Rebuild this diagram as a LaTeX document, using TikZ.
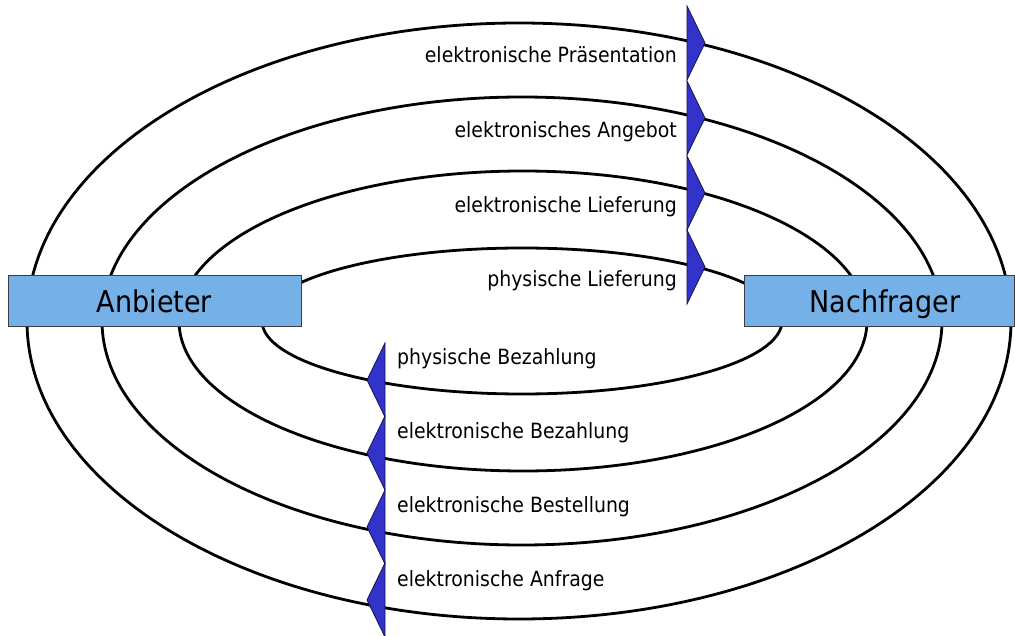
\documentclass[tikz,border=0pt]{standalone}
\usepackage{fontspec}
\setmainfont{DejaVu Sans}[FakeStretch=0.9]
\definecolor{triblue}{RGB}{51,51,204}
\definecolor{tridark}{RGB}{20,20,70}
\definecolor{boxblue}{RGB}{117,176,230}
\definecolor{boxborder}{RGB}{60,60,70}
\begin{document}
\begin{tikzpicture}[x=1pt,y=-1pt,
  ring/.style={line width=2.8pt},
  arrowtri/.style={fill=triblue, draw=tridark, line width=0.8pt, line join=miter},
  actor/.style={draw=boxborder, fill=boxblue, line width=1pt, minimum height=51pt, inner sep=0pt},
  actortext/.style={font=\fontsize{30}{36}\selectfont, inner sep=0pt, anchor=base},
  lbl/.style={font=\fontsize{21}{25}\selectfont, inner sep=0pt}]
\useasboundingbox (0,0) rectangle (1015,636);
% rings
\draw[ring] (519,321) ellipse [x radius=492, y radius=298];
\draw[ring] (522,321) ellipse [x radius=420, y radius=224];
\draw[ring] (523,321) ellipse [x radius=344, y radius=150];
\draw[ring] (522,321) ellipse [x radius=260, y radius=73];
% actor boxes
\node[actor, minimum width=293pt] (anb) at (154.5,301.5) {};
\node[actor, minimum width=270pt] (nach) at (879,301.5) {};
\node[actortext] (anbt) at (154.5,313) {Anbieter};
\node[actortext] (nacht) at (885,313) {Nachfrager};
% arrow heads, upper (to the right)
\foreach \t in {43,118,193,267}{
  \draw[arrowtri] (687,\t-37) -- (687,\t+37) -- (705,\t) -- cycle;
}
% arrow heads, lower (to the left)
\foreach \t in {380,453,527,600}{
  \draw[arrowtri] (385,\t-37) -- (385,\t+37) -- (367,\t) -- cycle;
}
% labels upper
\node[lbl, anchor=base east] (l1) at (677,63) {elektronische Präsentation};
\node[lbl, anchor=base east] (l2) at (677,138) {elektronisches Angebot};
\node[lbl, anchor=base east] (l3) at (677,213) {elektronische Lieferung};
\node[lbl, anchor=base east] (l4) at (677,287) {physische Lieferung};
% labels lower
\node[lbl, anchor=base west] (l5) at (397,364) {physische Bezahlung};
\node[lbl, anchor=base west] (l6) at (397,438) {elektronische Bezahlung};
\node[lbl, anchor=base west] (l7) at (397,512) {elektronische Bestellung};
\node[lbl, anchor=base west] (l8) at (397,586) {elektronische Anfrage};
\end{tikzpicture}
\end{document}
